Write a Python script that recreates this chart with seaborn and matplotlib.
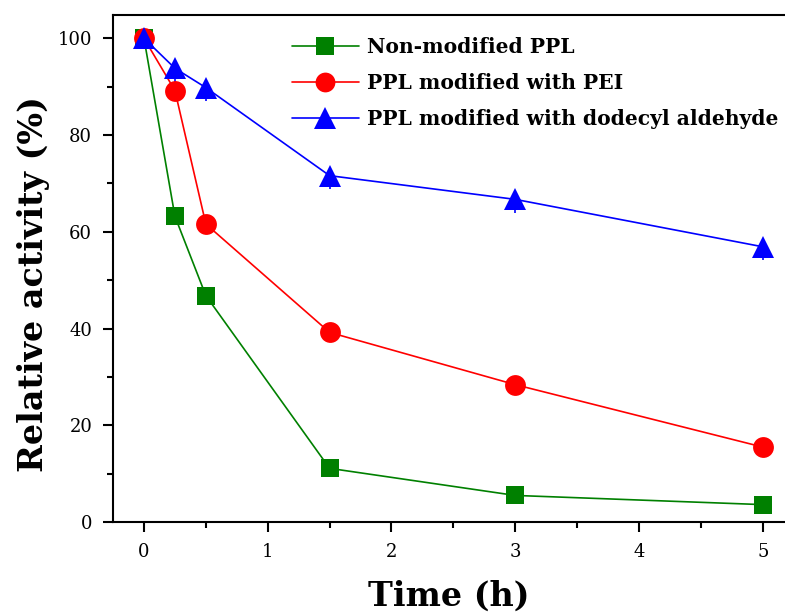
import matplotlib
matplotlib.use("Agg")
import matplotlib.pyplot as plt
import seaborn as sns
import pandas as pd
from matplotlib.ticker import MultipleLocator

time_h = [0, 0.25, 0.5, 1.5, 3, 5]
non_modified = [100, 63.2, 46.8, 11.1, 5.5, 3.6]
pei_modified = [100, 89.2, 61.6, 39.2, 28.4, 15.5]
aldehyde_modified = [100, 93.8, 89.8, 71.6, 66.7, 56.9]
aldehyde_err_low = [0.8, 2.8, 2.8, 2.8, 2.8, 2.8]

series_names = ["Non-modified PPL", "PPL modified with PEI",
                "PPL modified with dodecyl aldehyde"]
series_values = [non_modified, pei_modified, aldehyde_modified]
colors = ["#008000", "#ff0000", "#0000ff"]
markers = ["s", "o", "^"]
msizes = [13, 15, 16]

sns.set_theme(style="ticks")
plt.rcParams['font.family'] = ['DejaVu Serif']
plt.rcParams['text.color'] = 'black'
plt.rcParams['axes.labelcolor'] = 'black'
plt.rcParams['xtick.color'] = 'black'
plt.rcParams['ytick.color'] = 'black'

fig = plt.figure(figsize=(7.85, 6.12), dpi=100)
ax = fig.add_axes([0.144, 0.147, 0.856, 0.8284])

# lower error bars under the aldehyde series
ax.errorbar(time_h, aldehyde_modified,
            yerr=[aldehyde_err_low, [0] * len(aldehyde_err_low)], fmt="none",
            ecolor="#0000ff", elinewidth=1.2, capsize=0, zorder=2)

for name, vals, c, m, ms in zip(series_names, series_values, colors, markers, msizes):
    df = pd.DataFrame({"t": time_h, "v": vals})
    sns.lineplot(data=df, x="t", y="v", ax=ax, color=c, marker=m,
                 markersize=ms, markeredgewidth=0, linewidth=1.2,
                 label=name, zorder=3)

ax.set_xlim(-0.25, 5.18)
ax.set_ylim(0, 104.8)
ax.xaxis.set_major_locator(MultipleLocator(1))
ax.xaxis.set_minor_locator(MultipleLocator(0.5))
ax.yaxis.set_major_locator(MultipleLocator(20))
ax.yaxis.set_minor_locator(MultipleLocator(10))
ax.tick_params(which="major", direction="out", length=7, width=1.5,
               labelsize=13, colors="black", pad=8)
ax.tick_params(which="minor", direction="out", length=4, width=1.5)
for sp in ax.spines.values():
    sp.set_linewidth(1.5)
    sp.set_color("black")
ax.spines["right"].set_visible(False)

ax.set_xlabel("Time (h)", fontsize=24, fontweight="bold", color="black")
ax.xaxis.set_label_coords(0.5, -0.113)
ax.set_ylabel("Relative activity (%)", fontsize=24, fontweight="bold", color="black")
ax.yaxis.set_label_coords(-0.094, 0.469)

leg = ax.legend(loc="upper left", bbox_to_anchor=(0.245, 0.985), frameon=False,
                prop={"weight": "bold", "size": 14.6}, handlelength=3.3,
                handletextpad=0.4, labelspacing=0.8, borderaxespad=0.3,
                markerscale=0.95)
for t in leg.get_texts():
    t.set_color("black")

fig.savefig("out.png", dpi=100)
